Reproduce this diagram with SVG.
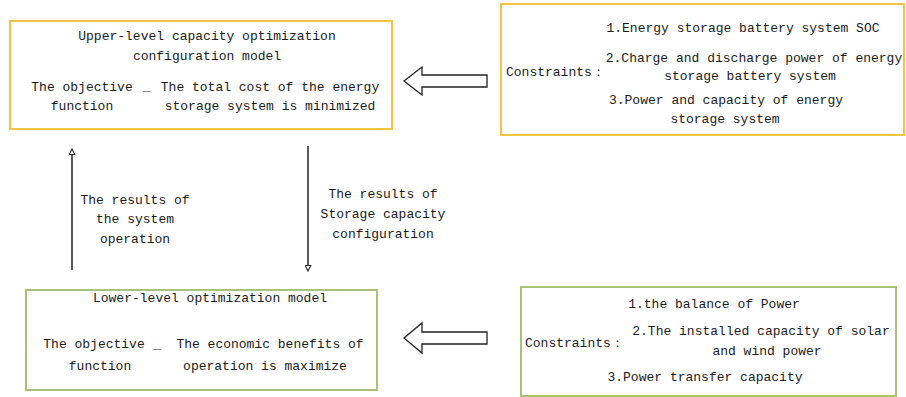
<svg xmlns="http://www.w3.org/2000/svg" width="906" height="397" viewBox="0 0 906 397">
<defs>
<style>
text{font-family:"Liberation Mono","DejaVu Sans Mono",monospace;font-size:13px;fill:#1a1a1a}
.m{text-anchor:middle}
.y{fill:#fff;stroke:#f2c440;stroke-width:2}
.g{fill:#fff;stroke:#a9c27a;stroke-width:2}
.blk{fill:#fff;stroke:#222;stroke-width:1.3}
.ln{stroke:#222;stroke-width:1.5;fill:none}
</style>
<marker id="ah" viewBox="0 0 10 10" refX="9" refY="5" markerWidth="7" markerHeight="7" markerUnits="userSpaceOnUse" orient="auto">
<path d="M1,1 L9,5 L1,9 Z" fill="#fff" stroke="#222" stroke-width="1.5"/>
</marker>
</defs>
<rect width="906" height="397" fill="#fff"/>
<g id="upper">
<rect class="y" x="10" y="21" width="382" height="108"/>
<text class="m" x="207" y="40">Upper-level capacity optimization</text>
<text class="m" x="207" y="60">configuration model</text>
<text class="m" x="82" y="91">The objective</text>
<text class="m" x="82" y="110">function</text>
<text class="m" x="147" y="90">_</text>
<text class="m" x="270" y="91">The total cost of the energy</text>
<text class="m" x="270" y="110">storage system is minimized</text>
</g>
<g id="upper-constraints">
<rect class="y" x="501" y="4" width="403" height="131"/>
<text x="506" y="76">Constraints：</text>
<text class="m" x="743" y="32">1.Energy storage battery system SOC</text>
<text class="m" x="754" y="62">2.Charge and discharge power of energy</text>
<text class="m" x="750" y="80">storage battery system</text>
<text class="m" x="726" y="104">3.Power and capacity of energy</text>
<text class="m" x="725" y="123">storage system</text>
</g>
<g id="lower">
<rect class="g" x="26" y="290" width="351" height="100"/>
<text class="m" x="210" y="302">Lower-level optimization model</text>
<text class="m" x="94" y="348">The objective</text>
<text class="m" x="100" y="370">function</text>
<text class="m" x="157" y="348">_</text>
<text class="m" x="270" y="348">The economic benefits of</text>
<text class="m" x="265" y="370">operation is maximize</text>
</g>
<g id="lower-constraints">
<rect class="g" x="521" y="287" width="375" height="109"/>
<text x="525" y="347">Constraints：</text>
<text class="m" x="714" y="308">1.the balance of Power</text>
<text class="m" x="761" y="335">2.The installed capacity of solar</text>
<text class="m" x="767" y="355">and wind power</text>
<text class="m" x="705" y="381">3.Power transfer capacity</text>
</g>
<g id="connectors">
<polygon class="blk" points="404,81 422,67 422,75 487,75 487,87 422,87 422,95"/>
<polygon class="blk" points="404,338 422,323 422,332 487,332 487,344 422,344 422,353"/>
<line class="ln" x1="72" y1="270" x2="72" y2="149" marker-end="url(#ah)"/>
<line class="ln" x1="308" y1="146" x2="308" y2="271" marker-end="url(#ah)"/>
<text class="m" x="135" y="204">The results of</text>
<text class="m" x="135" y="223">the system</text>
<text class="m" x="135" y="243">operation</text>
<text class="m" x="383" y="198">The results of</text>
<text class="m" x="383" y="218">Storage capacity</text>
<text class="m" x="383" y="238">configuration</text>
</g>
</svg>
